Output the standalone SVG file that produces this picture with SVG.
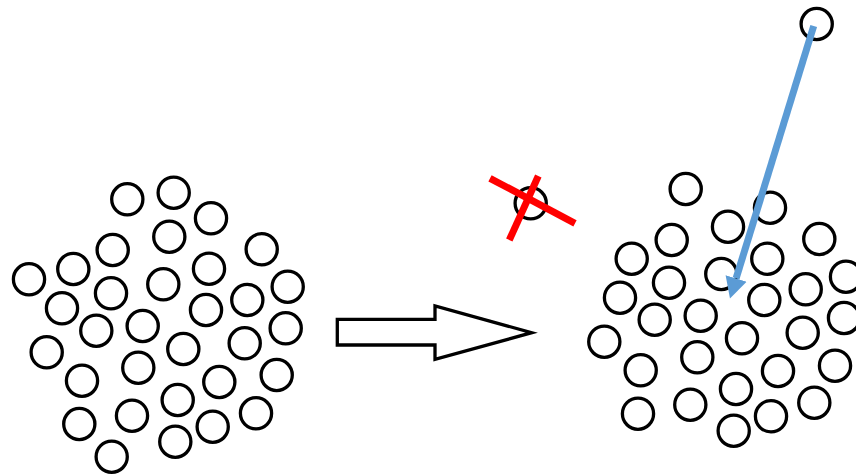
<svg xmlns="http://www.w3.org/2000/svg" width="856" height="476" viewBox="0 0 856 476">
<defs>
<style>
.c{fill:none;stroke:#000;stroke-width:3.3}
.x{stroke:#FF0000;stroke-width:7;stroke-linecap:butt}
</style>
<marker id="ah" markerUnits="userSpaceOnUse" markerWidth="22" markerHeight="24" viewBox="0 -11 21 22" refX="0" refY="0" orient="auto">
<path d="M0,-10.5 L20,0 L0,10.5 z" fill="#5B9BD5"/>
</marker>
</defs>
<rect width="856" height="476" fill="#fff"/>
<g id="left-cluster">
<circle class="c" cx="127.3" cy="199.3" r="15.6"/>
<circle class="c" cx="173.7" cy="192.7" r="15.6"/>
<circle class="c" cx="211" cy="218.3" r="15.6"/>
<circle class="c" cx="169.3" cy="236.7" r="15.6"/>
<circle class="c" cx="112.7" cy="250" r="15.6"/>
<circle class="c" cx="261.7" cy="249.3" r="15.6"/>
<circle class="c" cx="73.3" cy="269" r="15.6"/>
<circle class="c" cx="29" cy="279.3" r="15.6"/>
<circle class="c" cx="209" cy="268.7" r="15.6"/>
<circle class="c" cx="163.3" cy="284.3" r="15.6"/>
<circle class="c" cx="111" cy="293.3" r="15.6"/>
<circle class="c" cx="287.7" cy="286.7" r="15.6"/>
<circle class="c" cx="247.3" cy="300" r="15.6"/>
<circle class="c" cx="62" cy="308.3" r="15.6"/>
<circle class="c" cx="206" cy="310" r="15.6"/>
<circle class="c" cx="96.3" cy="330.7" r="15.6"/>
<circle class="c" cx="142.7" cy="326" r="15.6"/>
<circle class="c" cx="285.7" cy="328.3" r="15.6"/>
<circle class="c" cx="244.7" cy="343.3" r="15.6"/>
<circle class="c" cx="46.7" cy="352.3" r="15.6"/>
<circle class="c" cx="183.3" cy="349" r="15.6"/>
<circle class="c" cx="138.3" cy="367.7" r="15.6"/>
<circle class="c" cx="82" cy="380.7" r="15.6"/>
<circle class="c" cx="219.3" cy="382" r="15.6"/>
<circle class="c" cx="276.7" cy="375" r="15.6"/>
<circle class="c" cx="177.7" cy="400" r="15.6"/>
<circle class="c" cx="132" cy="415.7" r="15.6"/>
<circle class="c" cx="79.3" cy="424" r="15.6"/>
<circle class="c" cx="212.7" cy="426.7" r="15.6"/>
<circle class="c" cx="256" cy="413.3" r="15.6"/>
<circle class="c" cx="175.3" cy="441.7" r="15.6"/>
<circle class="c" cx="111.7" cy="456.7" r="15.6"/>
</g>
<g id="block-arrow">
<path d="M337.3,319.3 L435,319.3 L435,306 L531.7,332.7 L435,359.3 L435,345 L337.3,345 Z" fill="#fff" stroke="#000" stroke-width="3.3" stroke-linejoin="miter"/>
</g>
<g id="removed-particle">
<circle class="c" cx="530.7" cy="203.3" r="15.6"/>
<line class="x" x1="490" y1="178.3" x2="575" y2="223.3"/>
<line class="x" x1="538.3" y1="176" x2="509.3" y2="240"/>
</g>
<g id="right-cluster">
<circle class="c" cx="685.7" cy="189" r="15.6"/>
<circle class="c" cx="770" cy="207.7" r="15.6"/>
<circle class="c" cx="728" cy="226.7" r="15.6"/>
<circle class="c" cx="671.7" cy="240" r="15.6"/>
<circle class="c" cx="819.3" cy="239" r="15.6"/>
<circle class="c" cx="631.7" cy="258.7" r="15.6"/>
<circle class="c" cx="767.3" cy="258.7" r="15.6"/>
<circle class="c" cx="846" cy="276.7" r="15.6"/>
<circle class="c" cx="721.3" cy="274" r="15.6"/>
<circle class="c" cx="669" cy="282.7" r="15.6"/>
<circle class="c" cx="805.7" cy="289.3" r="15.6"/>
<circle class="c" cx="620" cy="297.7" r="15.6"/>
<circle class="c" cx="764.3" cy="300" r="15.6"/>
<circle class="c" cx="654.7" cy="319.7" r="15.6"/>
<circle class="c" cx="700.7" cy="315.7" r="15.6"/>
<circle class="c" cx="844" cy="318" r="15.6"/>
<circle class="c" cx="802.7" cy="332.7" r="15.6"/>
<circle class="c" cx="604.3" cy="341.7" r="15.6"/>
<circle class="c" cx="742" cy="338.3" r="15.6"/>
<circle class="c" cx="697.3" cy="357.3" r="15.6"/>
<circle class="c" cx="640.7" cy="370.3" r="15.6"/>
<circle class="c" cx="778" cy="371" r="15.6"/>
<circle class="c" cx="835" cy="365.7" r="15.6"/>
<circle class="c" cx="736" cy="389" r="15.6"/>
<circle class="c" cx="690.3" cy="404.7" r="15.6"/>
<circle class="c" cx="638" cy="413.7" r="15.6"/>
<circle class="c" cx="814.3" cy="402.7" r="15.6"/>
<circle class="c" cx="771" cy="416.3" r="15.6"/>
<circle class="c" cx="733.7" cy="430.7" r="15.6"/>
</g>
<g id="incoming-particle">
<circle class="c" cx="816.7" cy="24" r="15.6"/>
</g>
<g id="connectors">
<line x1="813.7" y1="26" x2="736.1" y2="278.4" stroke="#5B9BD5" stroke-width="7" marker-end="url(#ah)"/>
</g>
</svg>
